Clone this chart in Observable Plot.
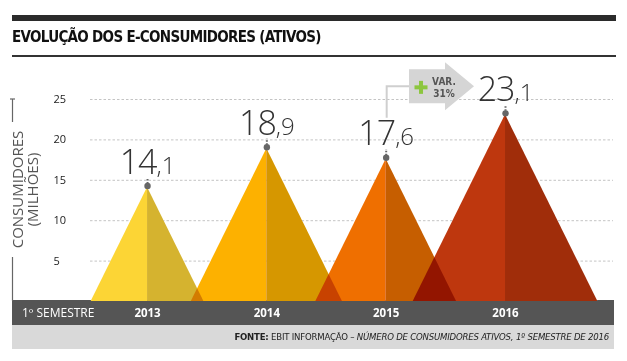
<!DOCTYPE html>
<html><head><meta charset="utf-8">
<script src="https://cdn.jsdelivr.net/npm/d3@7"></script>
<script src="https://cdn.jsdelivr.net/npm/@observablehq/plot@0.6"></script>
<style>
body{margin:0;background:#fff;}
#wrap{position:relative;width:627px;height:361px;overflow:hidden;background:#fff;}
.topbar{position:absolute;left:12px;top:15px;width:604px;height:6px;background:#2b2b2b;}
.title{position:absolute;left:12px;top:29px;font-family:"Liberation Sans Narrow","DejaVu Sans Condensed",sans-serif;font-weight:bold;font-size:15px;letter-spacing:-0.7px;line-height:16px;color:#111;white-space:nowrap;}
.rule{position:absolute;left:12px;top:55px;width:604px;height:2px;background:#333;}
.band{position:absolute;left:12px;top:300px;width:602px;height:25px;background:#555;color:#fff;font-family:"Open Sans",sans-serif;font-size:12px;line-height:25px;}
.band span{padding-left:10px;}
.foot{position:absolute;left:12px;top:325px;width:602px;height:24px;background:#d9d9d9;color:#222;font-family:"Liberation Sans Narrow","DejaVu Sans Condensed",sans-serif;font-size:9.5px;letter-spacing:-0.2px;line-height:24px;text-align:right;white-space:nowrap;}
.foot span{padding-right:5px;}
#chart{position:absolute;left:0;top:60px;}
</style>
</head><body>
<div id="wrap">
  <div class="topbar"></div>
  <div class="title">EVOLUÇÃO DOS E-CONSUMIDORES (ATIVOS)</div>
  <div class="rule"></div>
  <div class="band"><span>1º SEMESTRE</span></div>
  <div class="foot"><span><b>FONTE:</b> EBIT INFORMAÇÃO – <i>NÚMERO DE CONSUMIDORES ATIVOS, 1º SEMESTRE DE 2016</i></span></div>
  <div id="chart"></div>
</div>
<script>
const years = ["2013", "2014", "2015", "2016"];
const values = [14.1, 18.9, 17.6, 23.1];
const lightColors = ["#fcd535", "#fdb100", "#ef6f00", "#be370e"];
const darkColors = ["#d5b32f", "#d69700", "#c65e00", "#a02d0a"];
const yTicks = [5, 10, 15, 20, 25];
const variationLabel = ["VAR.", "31%"];
const axisTitle = "CONSUMIDORES\n(MILHÕES)";

// triangle half-base per unit of value, in x units (base ≈ height)
const shape = 0.0335;

const points = years.map((yr, i) => ({
  i, year: yr, v: values[i],
  label: values[i].toFixed(1).replace(".", ",")
}));

const halves = [];
points.forEach(p => {
  const hw = p.v * shape;
  halves.push({key: p.year + "L", x: p.i - hw, y: 0, fill: lightColors[p.i]});
  halves.push({key: p.year + "L", x: p.i, y: p.v, fill: lightColors[p.i]});
  halves.push({key: p.year + "R", x: p.i, y: p.v, fill: darkColors[p.i]});
  halves.push({key: p.year + "R", x: p.i + hw, y: 0, fill: darkColors[p.i]});
});

function decorations(index, scales, vals, dim) {
  const x = scales.x, y = scales.y;
  const g = d3.create("svg:g");
  // y axis line (interrupted by title)
  const ax = dim.marginLeft - 77.5;
  g.append("line").attr("x1", ax).attr("x2", ax).attr("y1", y(25)).attr("y2", y(25) + 23)
    .attr("stroke", "#666").attr("stroke-width", 1.2);
  g.append("line").attr("x1", ax - 2.5).attr("x2", ax + 2.5).attr("y1", y(25)).attr("y2", y(25))
    .attr("stroke", "#666").attr("stroke-width", 1.2);
  g.append("line").attr("x1", ax).attr("x2", ax).attr("y1", y(0) - 44).attr("y2", y(0))
    .attr("stroke", "#666").attr("stroke-width", 1.2);
  // callout
  const tipX = x(3) - 31, tipY = y(values[3]) - 28;
  const cx = x(2) + 1, cTop = y(values[2]) - 41;
  g.append("path").attr("d", `M${tipX - 65},${tipY}H${cx}V${cTop}`)
    .attr("fill", "none").attr("stroke", "#cfcfcf").attr("stroke-width", 2);
  g.append("path").attr("d",
    `M${tipX - 65},${tipY - 17}H${tipX - 29}V${tipY - 24}L${tipX},${tipY}L${tipX - 29},${tipY + 24}V${tipY + 17}H${tipX - 65}Z`)
    .attr("fill", "#d5d5d5");
  const px = tipX - 53, py = tipY + 1;
  g.append("rect").attr("x", px - 6.5).attr("y", py - 2).attr("width", 13).attr("height", 4).attr("fill", "#8cc63e");
  g.append("rect").attr("x", px - 2).attr("y", py - 6.5).attr("width", 4).attr("height", 13).attr("fill", "#8cc63e");
  const t = g.append("text").attr("x", tipX - 30).attr("y", tipY - 1).attr("text-anchor", "middle")
    .attr("font-family", "DejaVu Sans Condensed, sans-serif").attr("font-weight", "bold").attr("font-size", 10).attr("fill", "#555");
  t.append("tspan").attr("x", tipX - 30).text(variationLabel[0]);
  t.append("tspan").attr("x", tipX - 30).attr("dy", 12).text(variationLabel[1]);
  return g.node();
}

const chart = Plot.plot({
  width: 627, height: 265,
  marginLeft: 90, marginRight: 14, marginTop: 39, marginBottom: 24,
  x: {domain: [-0.478, 3.905], axis: null},
  y: {domain: [0, 25], axis: null},
  color: {type: "identity"},
  style: {background: "transparent", fontFamily: "Open Sans, sans-serif", overflow: "visible"},
  marks: [
    Plot.ruleY(yTicks, {stroke: "#c4c4c4", strokeDasharray: "2.5,2"}),
    Plot.text(yTicks, {y: d => d, frameAnchor: "left", dx: -37, textAnchor: "start", fontSize: 11, fill: "#222"}),
    Plot.text([axisTitle], {frameAnchor: "left", rotate: -90, dx: -65, dy: -11, lineAnchor: "middle", textAnchor: "middle",
      fontSize: 15, fill: "#555", lineHeight: 1}),
    Plot.areaY(halves, {x: "x", y1: 0, y2: "y", z: "key", fill: "#fff"}),
    Plot.areaY(halves, {x: "x", y1: 0, y2: "y", z: "key", fill: "fill", mixBlendMode: "multiply"}),
    Plot.ruleX(points, {x: "i", y1: d => d.v + 0.45, y2: d => d.v + 1.2, stroke: "#666", strokeWidth: 2, strokeDasharray: "1.5,1.5"}),
    Plot.dot(points, {x: "i", y: "v", r: 3.2, fill: "#666", dy: -1.5}),
    Plot.text(points, {x: "i", y: "v", text: "label", dy: -14, lineAnchor: "bottom", fontSize: 34, fontWeight: 300,
      fill: "#333", className: "vlab"}),
    Plot.text(points, {x: "i", text: "year", frameAnchor: "bottom", dy: 12, lineAnchor: "middle", fill: "#fff",
      fontWeight: "bold", fontSize: 11.5}),
    decorations
  ]
});

// split value labels into large integer part and smaller decimal part
const ns = "http://www.w3.org/2000/svg";
chart.querySelectorAll(".vlab text").forEach(t => {
  const [a, b] = t.textContent.split(",");
  t.textContent = "";
  const t1 = document.createElementNS(ns, "tspan");
  t1.textContent = a;
  t1.setAttribute("letter-spacing", "-1");
  const t2 = document.createElementNS(ns, "tspan");
  t2.textContent = "," + b;
  t2.setAttribute("font-size", "24");
  t.appendChild(t1); t.appendChild(t2);
});

document.getElementById("chart").appendChild(chart);
</script>
</body></html>
